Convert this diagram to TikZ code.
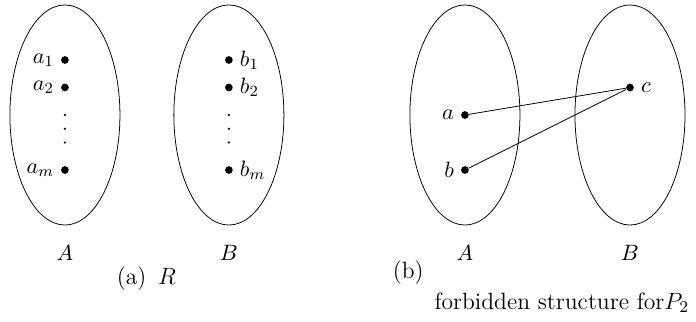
\RequirePackage{fix-cm}
\documentclass[tikz,border=0pt]{standalone}
\usepackage{amsmath}
\usepackage{tikz}
\usetikzlibrary{positioning}

\begin{document}
\begin{tikzpicture}[
    font=\fontsize{11.5}{14}\selectfont,
    dot/.style={circle, fill=black, inner sep=0pt, minimum size=0.14cm},
    tiny/.style={circle, fill=black, inner sep=0pt, minimum size=0.045cm},
    setname/.style={font=\fontsize{11.5}{14}\selectfont},
    caption/.style={font=\fontsize{12.2}{14}\selectfont},
    edge/.style={draw, thin}
]
    \useasboundingbox (0,0) rectangle (12.65,-5.85);

    % (a) the relation R
    \draw (1.18,-2.09) ellipse (1cm and 2cm);
    \draw (4.16,-2.09) ellipse (1cm and 2cm);

    \node[dot, label=left:$a_1$] (a1) at (1.18,-1.09) {};
    \node[dot, label=left:$a_2$] (a2) at (1.18,-1.59) {};
    \node[tiny] (ad1) at (1.18,-2.09) {};
    \node[tiny] (ad2) at (1.18,-2.34) {};
    \node[tiny] (ad3) at (1.18,-2.59) {};
    \node[dot, label=left:$a_m$] (am) at (1.18,-3.09) {};

    \node[dot, label=right:$b_1$] (b1) at (4.16,-1.09) {};
    \node[dot, label=right:$b_2$] (b2) at (4.16,-1.59) {};
    \node[tiny] (bd1) at (4.16,-2.09) {};
    \node[tiny] (bd2) at (4.16,-2.34) {};
    \node[tiny] (bd3) at (4.16,-2.59) {};
    \node[dot, label=right:$b_m$] (bm) at (4.16,-3.09) {};

    \node[setname] (setA) at (1.18,-4.6) {$A$};
    \node[setname] (setB) at (4.16,-4.6) {$B$};
    \node[caption] (capa) at (2.66,-5.07) {(a)\enspace$R$};

    % (b) the forbidden structure
    \draw (8.45,-2.09) ellipse (1cm and 2cm);
    \draw (11.45,-2.09) ellipse (1cm and 2cm);

    \node[dot, label=left:$a$] (a) at (8.45,-2.09) {};
    \node[dot, label=left:$b$] (b) at (8.45,-3.09) {};
    \node[dot, label=right:$c$] (c) at (11.45,-1.59) {};
    \draw[edge] (a) -- (c);
    \draw[edge] (b) -- (c);

    \node[setname] (setA2) at (8.45,-4.6) {$A$};
    \node[setname] (setB2) at (11.45,-4.6) {$B$};
    \node[caption] (capb) at (7.42,-4.95) {(b)};
    \node[caption] (capbtext) at (10.21,-5.5) {forbidden structure for$P_2$};
\end{tikzpicture}
\end{document}
